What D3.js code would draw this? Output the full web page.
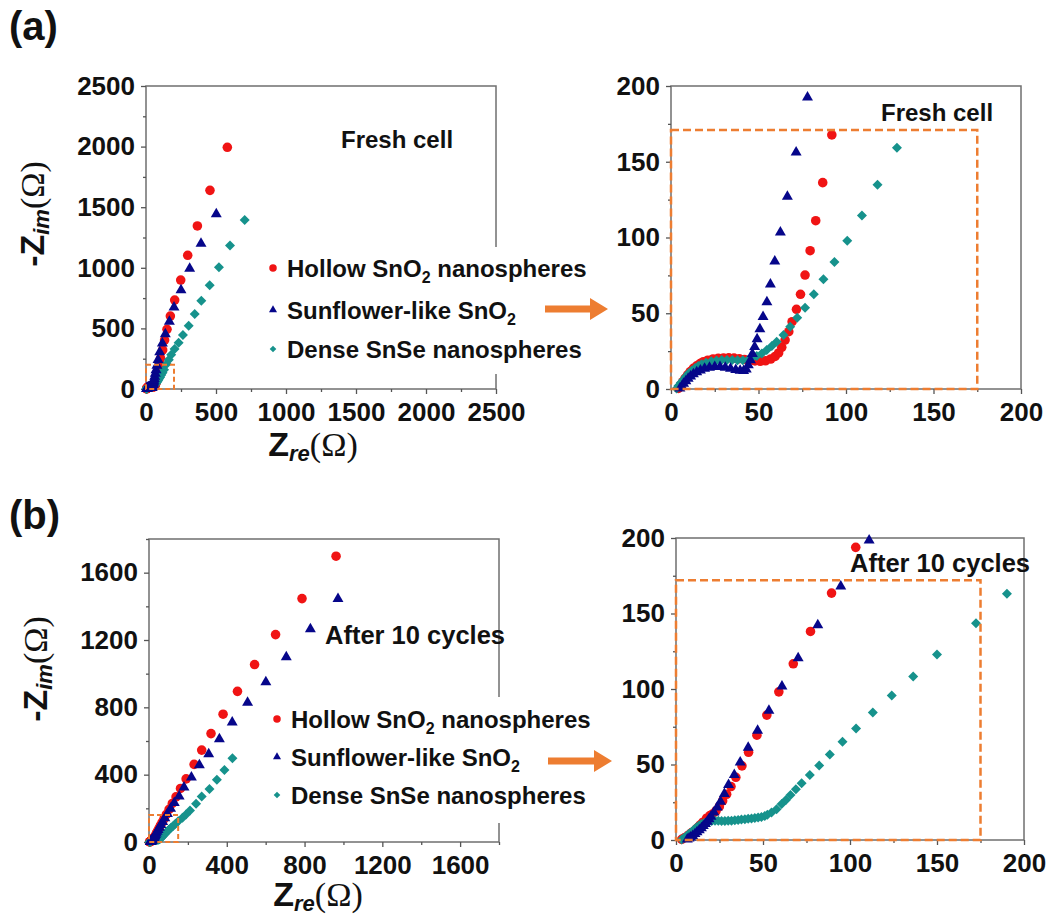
<!DOCTYPE html>
<html>
<head>
<meta charset="utf-8">
<script src="https://cdn.jsdelivr.net/npm/d3@7"></script>
<style>
  body { margin: 0; background: #fff; }
  svg { display: block; }
</style>
</head>
<body>
<svg id="fig" width="1051" height="919"></svg>
<script>
// Nyquist data, [Z_re, -Z_im] in ohms
const freshHollow = [
  [4.2,0.4],[5.5,2.5],[6.8,4.8],[8,7],[9.5,9.3],[11,11.5],[12.8,13.6],[14.7,15.3],[16.6,16.8],[18.5,18],
  [21,19],[24,19.8],[27,20.3],[30,20.5],[33,20.6],[36,20.4],[39,20],[42,19.5],[45,19],[48,18.5],
  [51,18.3],[54,18.6],[57,19.8],[59.5,21.5],[61.5,23.8],[63.3,27.5],[65.2,32.3],[67.3,37.8],[69.2,44.4],
  [71.7,52.6],[74,62.5],[76.6,75.2],[79.5,91.3],[82.7,111.1],[86.7,136.2],[91.9,167.7],[97,207],
  [104,253],[119,322],[133,404],[150,492],[174,602],[205,734],[248,899],[298,1103],[367,1345],[457,1639],[581,1994]
];
const freshSunflower = [
  [5.1,0.4],[6.2,1.8],[7.2,3.5],[8.5,5.2],[9.8,6.9],[11.2,8.4],[12.8,9.9],[14.7,11.2],[16.8,12.4],[19.2,13.4],
  [22,14.1],[25,14.6],[28,14.6],[31,14.2],[34,13.5],[37,12.7],[39.5,12.1],[41.5,12],[43,13],[44.2,15.8],
  [45.4,19.1],[46.5,23.2],[47.8,27.9],[49.2,33],[50.8,39.5],[52.6,47.7],[54.8,57.4],[56.8,69.1],[59.3,84.3],
  [62.5,103.4],[66.5,127],[71.5,156.2],[78,192.5],[86,240],[98,305],[117,377],[138,454],[167,556],
  [200,674],[250,817],[312,993],[393,1199],[502,1444]
];
const freshDense = [
  [3.2,0.4],[4.3,2.2],[5.6,4.2],[7,6],[8.5,8.2],[10,10.2],[11.8,12],[13.8,13.8],[15.6,15.2],[17.5,16.3],
  [20,17.4],[23,18.3],[26,18.8],[29,19.1],[32,19.2],[35,19.1],[38,19],[41,18.9],[44,19.2],[46.3,20.5],
  [49,21.8],[51.9,23.5],[54.7,25.7],[57.6,28.4],[60.4,31.2],[64.3,35.6],[68.1,41.1],[72.1,47.1],[76.6,53.7],
  [81.6,62.5],[87.1,72.4],[93.4,83.8],[100.7,97.9],[109.1,114.6],[118,134.9],[129.1,159.3],[147,206],
  [163,242],[180,282],[204,330],[233,382],[264,445],[305,522],[348,619],[395,729],[455,855],[521,1004],
  [600,1185],[705,1394]
];
const cycledHollow = [
  [3.3,0.4],[5,1.5],[6.1,2.2],[7.5,3.5],[9,4.8],[10,5.5],[11.5,7.2],[12.8,8.6],[13.8,9.9],[15.5,11.8],
  [17.6,14.4],[19.5,16.2],[21,17.2],[23,19.2],[24.9,22.1],[26.8,25.9],[29.1,30.3],[31.6,35.4],[34.4,41.5],
  [37.9,49.1],[41.7,58.1],[46.5,69.4],[52.2,82.7],[59.1,98.1],[67.4,116.7],[77.3,138.1],[89.4,163.5],
  [103.3,193.8],[120,229],[139,268],[162,318],[191,375],[232,461],[271,546],[319,644],[381,759],
  [455,895],[543,1054],[651,1232],[787,1446],[962,1698]
];
const cycledSunflower = [
  [6.5,0.4],[7.5,1.1],[8.4,1.8],[9.6,2.8],[10.9,4],[12.1,5.2],[13.4,6.6],[14.6,7.9],[15.7,9.3],[16.9,10.7],
  [18,12.2],[19,13.8],[20.1,15.5],[21.8,18.3],[23.7,21.7],[25.6,25.4],[27.8,30.5],[30.2,36.5],[33.5,43.1],
  [36.9,51.5],[41.5,61.2],[46.9,72.5],[53.4,85.7],[60.9,101.7],[70.2,120.4],[81.5,142.3],[94.7,168],
  [111,198.4],[130,232],[155,272],[180,325],[218,384],[259,457],[307,522],[362,611],[428,711],[507,828],
  [601,950],[706,1099],[830,1265],[972,1444]
];
const cycledDense = [
  [3.3,0.4],[4.7,1.5],[6.1,2.7],[7.5,4.1],[9,5.5],[10.4,7],[11.9,8.4],[13.3,9.6],[14.7,10.6],[16.2,11.3],
  [17.6,11.9],[19,12.3],[20.5,12.6],[22.4,12.8],[24.3,12.7],[26.2,12.6],[28.1,12.6],[30,12.7],[31.9,12.8],
  [33.8,13],[35.7,13.2],[37.6,13.5],[39.6,13.7],[41.5,14],[43.4,14.3],[45.3,14.6],[47.2,14.9],[49.1,15.2],
  [51,15.9],[52.5,16.8],[54.9,18.2],[57.8,20.3],[60.7,23.9],[63.2,26.5],[65.8,29.8],[68.9,33.6],[72.2,37.6],
  [76.9,43.1],[82.3,49.3],[88.4,56.6],[95.7,65],[103.5,73.8],[113.1,84.4],[124,95.7],[136.3,108.3],
  [150,122.9],[172.4,143.6],[190.2,163.1],[211,187],[242,227],[271,270],[311,315],[349,370],[388,428],[429,497]
];

const legendLabels = [
  ["Hollow SnO", "2", " nanospheres"],
  ["Sunflower-like SnO", "2", ""],
  ["Dense SnSe nanospheres", "", ""]
];
const freshFullTicks = [0, 500, 1000, 1500, 2000, 2500];
const cycledFullTicks = [0, 400, 800, 1200, 1600];
const zoomTicks = [0, 50, 100, 150, 200];
const panelNotes = ["Fresh cell", "After 10 cycles"];
const freshInsetBox = [200, 200];
const cycledInsetBox = [150, 160];
const freshZoomBox = [175, 171];
const cycledZoomBox = [175, 172];

const RED = "#f01414", NAVY = "#06068a", TEAL = "#16928c", ORANGE = "#ed7d31";
const SANS = "'Liberation Sans', Arial, sans-serif";
const SERIF = "'Liberation Serif', 'Times New Roman', serif";

const svg = d3.select("#fig");

const markerStyles = [
  { type: d3.symbolCircle, size: 72, color: RED, rot: 0 },
  { type: d3.symbolSquare, size: 50, color: TEAL, rot: 45 },
  { type: d3.symbolTriangle, size: 52, color: NAVY, rot: 0 }
];

function drawPanel(cfg) {
  const g = svg.append("g");
  const x = d3.scaleLinear().domain([0, cfg.xmax]).range([cfg.left, cfg.right]);
  const y = d3.scaleLinear().domain([0, cfg.ymax]).range([cfg.bottom, cfg.top]);

  const minor = cfg.ticks.slice(0, -1).map((t, i) => (t + cfg.ticks[i + 1]) / 2);
  if (cfg.ticks[cfg.ticks.length - 1] < cfg.xmax) {
    const step = cfg.ticks[1] - cfg.ticks[0];
    minor.push(cfg.ticks[cfg.ticks.length - 1] + step / 2);
  }

  // frame
  g.append("rect")
    .attr("x", cfg.left).attr("y", cfg.top)
    .attr("width", cfg.right - cfg.left).attr("height", cfg.bottom - cfg.top)
    .attr("fill", "none").attr("stroke", "#6f6f6f").attr("stroke-width", 1.5);

  const xAxis = d3.axisBottom(x).tickValues(cfg.ticks).tickSize(5).tickPadding(9)
    .tickFormat(d3.format("d"));
  const yAxis = d3.axisLeft(y).tickValues(cfg.ticks).tickSize(5).tickPadding(6)
    .tickFormat(d3.format("d"));
  const xMinor = d3.axisBottom(x).tickValues(minor).tickSize(3).tickFormat("");
  const yMinor = d3.axisLeft(y).tickValues(minor.filter(v => v <= cfg.ymax)).tickSize(3).tickFormat("");

  [xAxis, xMinor].forEach(ax => {
    g.append("g").attr("transform", `translate(0,${cfg.bottom})`).call(ax);
  });
  [yAxis, yMinor].forEach(ax => {
    g.append("g").attr("transform", `translate(${cfg.left},0)`).call(ax);
  });
  g.selectAll(".domain").remove();
  g.selectAll(".tick line").attr("stroke", "#555").attr("stroke-width", 1.3);
  g.selectAll(".tick text")
    .attr("font-family", SANS).attr("font-weight", "bold").attr("font-size", 26)
    .attr("fill", "#111");

  // data points
  cfg.series.forEach((pts, i) => {
    const st = markerStyles[i];
    const shown = cfg.clip ? pts.filter(p => p[0] <= cfg.xmax && p[1] <= cfg.ymax) : pts;
    g.append("g").selectAll("path").data(shown).join("path")
      .attr("d", d3.symbol().type(st.type).size(st.size))
      .attr("transform", d => `translate(${x(d[0])},${y(d[1])}) rotate(${st.rot})`)
      .attr("fill", st.color);
  });

  // dashed region box
  if (cfg.box) {
    g.append("rect")
      .attr("x", x(0)).attr("y", y(cfg.box[1]))
      .attr("width", x(cfg.box[0]) - x(0)).attr("height", y(0) - y(cfg.box[1]))
      .attr("fill", "none").attr("stroke", ORANGE)
      .attr("stroke-width", cfg.boxWidth).attr("stroke-dasharray", cfg.boxDash);
  }

  // note text
  g.append("text")
    .attr("x", cfg.note.x).attr("y", cfg.note.y)
    .attr("font-family", SANS).attr("font-weight", "bold").attr("font-size", cfg.note.size)
    .attr("fill", "#111").text(cfg.note.text);

  // axis titles
  if (cfg.titles) {
    const xt = g.append("text")
      .attr("x", cfg.titles.xx).attr("y", cfg.titles.xy)
      .attr("text-anchor", "middle").attr("fill", "#111");
    xt.append("tspan").attr("font-family", SANS).attr("font-weight", "bold").attr("font-size", 34).text("Z");
    xt.append("tspan").attr("font-family", SANS).attr("font-weight", "bold").attr("font-style", "italic")
      .attr("font-size", 22).attr("dy", 5).text("re");
    xt.append("tspan").attr("font-family", SERIF).attr("font-size", 34).attr("dy", -5).text("(Ω)");

    const yt = g.append("text")
      .attr("transform", `translate(${cfg.titles.yx},${cfg.titles.yy}) rotate(-90)`)
      .attr("text-anchor", "middle").attr("fill", "#111");
    yt.append("tspan").attr("font-family", SANS).attr("font-weight", "bold").attr("font-size", 34).text("-Z");
    yt.append("tspan").attr("font-family", SANS).attr("font-weight", "bold").attr("font-style", "italic")
      .attr("font-size", 22).attr("dy", 5).text("im");
    yt.append("tspan").attr("font-family", SERIF).attr("font-size", 34).attr("dy", -5).text("(Ω)");
  }

  // legend
  if (cfg.legend) {
    const L = cfg.legend;
    g.append("rect").attr("x", L.x - 10).attr("y", L.bgTop)
      .attr("width", 330).attr("height", L.bgBottom - L.bgTop).attr("fill", "#fff");
    const legendMarkers = [
      { type: d3.symbolCircle, size: 44, color: RED, rot: 0 },
      { type: d3.symbolTriangle, size: 28, color: NAVY, rot: 0 },
      { type: d3.symbolSquare, size: 22, color: TEAL, rot: 45 }
    ];
    legendLabels.forEach((parts, i) => {
      const yy = L.ys[i];
      const m = legendMarkers[i];
      g.append("path")
        .attr("d", d3.symbol().type(m.type).size(m.size))
        .attr("transform", `translate(${L.x},${yy}) rotate(${m.rot})`)
        .attr("fill", m.color);
      const t = g.append("text").attr("x", L.x + 14).attr("y", yy + 8.5)
        .attr("font-family", SANS).attr("font-weight", "bold").attr("font-size", 24).attr("fill", "#111");
      t.append("tspan").text(parts[0]);
      if (parts[1]) {
        t.append("tspan").attr("font-size", 16).attr("dy", 6).text(parts[1]);
        if (parts[2]) t.append("tspan").attr("dy", -6).text(parts[2]);
      }
    });
  }
  return { x, y };
}

// Fresh cell, full range
drawPanel({
  left: 146, right: 496, top: 86, bottom: 389, xmax: 2500, ymax: 2500,
  ticks: freshFullTicks, series: [freshHollow, freshDense, freshSunflower], clip: false,
  box: freshInsetBox, boxWidth: 2, boxDash: "5,3",
  note: { x: 341, y: 148, size: 24, text: panelNotes[0] },
  titles: { xx: 313, xy: 456, yx: 44, yy: 214 },
  legend: { x: 273, ys: [268, 310, 349], bgTop: 247, bgBottom: 374 }
});
// Fresh cell, high-frequency region
drawPanel({
  left: 671, right: 1021, top: 86, bottom: 389, xmax: 200, ymax: 200,
  ticks: zoomTicks, series: [freshHollow, freshDense, freshSunflower], clip: true,
  box: freshZoomBox, boxWidth: 2.5, boxDash: "8,4",
  note: { x: 881, y: 121, size: 24, text: panelNotes[0] }
});
// After 10 cycles, full range
drawPanel({
  left: 149, right: 499, top: 539, bottom: 842, xmax: 1800, ymax: 1800,
  ticks: cycledFullTicks, series: [cycledHollow, cycledDense, cycledSunflower], clip: false,
  box: cycledInsetBox, boxWidth: 2, boxDash: "5,3",
  note: { x: 325, y: 644, size: 25.5, text: panelNotes[1] },
  titles: { xx: 318, xy: 906, yx: 47, yy: 669 },
  legend: { x: 277, ys: [719, 757, 795], bgTop: 697, bgBottom: 823 }
});
// After 10 cycles, high-frequency region
drawPanel({
  left: 676, right: 1024, top: 538, bottom: 840, xmax: 200, ymax: 200,
  ticks: zoomTicks, series: [cycledHollow, cycledDense, cycledSunflower], clip: true,
  box: cycledZoomBox, boxWidth: 2.5, boxDash: "8,4",
  note: { x: 850, y: 572, size: 25.5, text: panelNotes[1] }
});

// connecting arrows
function arrow(x0, x1, yc) {
  const head = 18, half = 11, shaft = 3.5;
  svg.append("path")
    .attr("d", `M${x0},${yc - shaft}L${x1 - head},${yc - shaft}L${x1 - head},${yc - half}L${x1},${yc}` +
               `L${x1 - head},${yc + half}L${x1 - head},${yc + shaft}L${x0},${yc + shaft}Z`)
    .attr("fill", ORANGE);
}
arrow(545, 608, 309);
arrow(548, 612, 761);

// panel letters
[["(a)", 40], ["(b)", 529]].forEach(([t, yy]) => {
  svg.append("text").attr("x", 9).attr("y", yy)
    .attr("font-family", SANS).attr("font-weight", "bold").attr("font-size", 40)
    .attr("fill", "#111").text(t);
});
</script>
</body>
</html>
